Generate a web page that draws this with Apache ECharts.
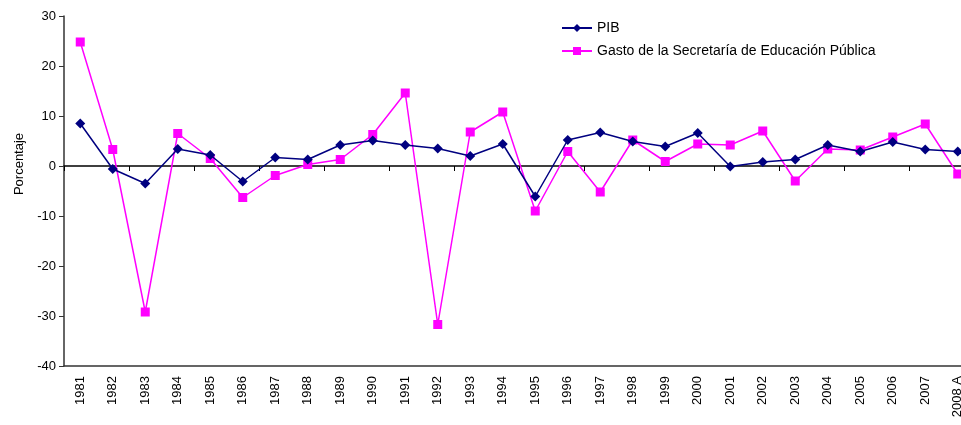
<!DOCTYPE html>
<html>
<head>
<meta charset="utf-8">
<script src="https://cdn.jsdelivr.net/npm/echarts@6/dist/echarts.min.js"></script>
<style>
  html, body { margin: 0; padding: 0; background: #fff; }
  #chart { width: 961px; height: 425px; }
</style>
</head>
<body>
<div id="chart"></div>
<script>
const years = ['1981', '1982', '1983', '1984', '1985', '1986', '1987', '1988', '1989', '1990',
  '1991', '1992', '1993', '1994', '1995', '1996', '1997', '1998', '1999', '2000',
  '2001', '2002', '2003', '2004', '2005', '2006', '2007', '2008 A']

const pib = [8.5, -0.6, -3.5, 3.4, 2.2, -3.1, 1.7, 1.3, 4.2, 5.1,
  4.2, 3.5, 2.0, 4.4, -6.1, 5.2, 6.7, 4.9, 3.9, 6.6,
  -0.1, 0.8, 1.3, 4.2, 2.9, 4.8, 3.3, 2.9]

const gastoSep = [24.8, 3.3, -29.2, 6.5, 1.5, -6.3, -1.9, 0.3, 1.3, 6.3,
  14.6, -31.7, 6.8, 10.8, -9.0, 2.9, -5.2, 5.2, 0.9, 4.4,
  4.2, 7.0, -3.0, 3.4, 3.2, 5.8, 8.4, -1.6]

const seriesNames = ['PIB', 'Gasto de la Secretaría de Educación Pública']

const chart = echarts.init(document.getElementById('chart'), null, { renderer: 'canvas' })

const axisColor = '#333333'
const font = 'Liberation Sans, Arial, sans-serif'

chart.setOption({
  backgroundColor: '#ffffff',
  animation: false,
  textStyle: { fontFamily: font },
  legend: {
    orient: 'vertical',
    left: 556,
    top: 16,
    itemWidth: 30,
    itemHeight: 10,
    itemGap: 9,
    textStyle: { fontFamily: font, fontSize: 14, color: '#000' },
    data: seriesNames
  },
  // y-axis title sits level with the zero line in the original, not mid-axis
  graphic: [
    {
      type: 'text',
      x: 19,
      y: 164,
      rotation: Math.PI / 2,
      style: {
        text: 'Porcentaje',
        fontFamily: font,
        fontSize: 13,
        fill: '#000',
        align: 'center',
        verticalAlign: 'middle'
      }
    }
  ],
  // plot runs a bit past the right edge of the canvas, like the original
  grid: {
    left: 64,
    width: 910,
    top: 16,
    bottom: 59,
    containLabel: false,
    outerBoundsMode: 'none'
  },
  xAxis: [
    {
      type: 'category',
      data: years,
      position: 'bottom',
      boundaryGap: true,
      axisLine: { onZero: false, lineStyle: { color: axisColor, width: 1.5 } },
      axisTick: { show: false },
      axisLabel: {
        rotate: 90,
        interval: 0,
        margin: 10,
        fontFamily: font,
        fontSize: 13,
        color: '#000'
      }
    },
    {
      type: 'category',
      data: years,
      position: 'bottom',
      boundaryGap: true,
      axisLine: { onZero: true, lineStyle: { color: '#000', width: 1.5 } },
      axisTick: { show: true, length: 5, lineStyle: { color: '#000' } },
      axisLabel: { show: false }
    }
  ],
  yAxis: {
    type: 'value',
    min: -40,
    max: 30,
    interval: 10,
    axisLine: { show: true, lineStyle: { color: axisColor, width: 1.5 } },
    axisTick: { show: true, length: 5, lineStyle: { color: axisColor } },
    axisLabel: { fontFamily: font, fontSize: 13, color: '#000', margin: 8 },
    splitLine: { show: false }
  },
  series: [
    {
      name: seriesNames[0],
      type: 'line',
      xAxisIndex: 0,
      data: pib,
      symbol: 'diamond',
      symbolSize: 10,
      color: '#000080',
      lineStyle: { width: 1.5, color: '#000080' },
      itemStyle: { color: '#000080' },
      z: 3
    },
    {
      name: seriesNames[1],
      type: 'line',
      xAxisIndex: 0,
      data: gastoSep,
      symbol: 'rect',
      symbolSize: 9,
      color: '#ff00ff',
      lineStyle: { width: 1.5, color: '#ff00ff' },
      itemStyle: { color: '#ff00ff' },
      z: 2
    }
  ]
})
</script>
</body>
</html>
